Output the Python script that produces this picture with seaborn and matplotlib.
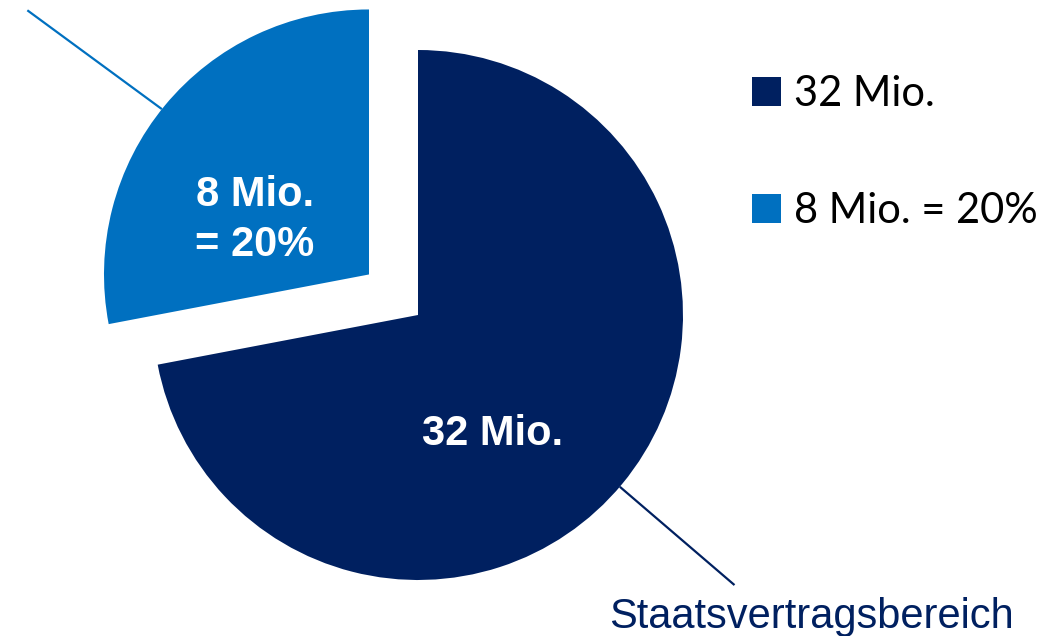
import numpy as np
import matplotlib
matplotlib.use("Agg")
import matplotlib.pyplot as plt
import matplotlib.patches as mpatches
import seaborn as sns

# ---- data ----
categories = ["32 Mio.", "8 Mio. = 20%"]
slice_labels = ["32 Mio.", "8 Mio.\n= 20%"]
slice_shares = [72.0, 28.0]          # drawn angular shares of the pie
callout_text = "Staatsvertragsbereich"

sns.set_theme(style="white")
palette = sns.color_palette(["#002060", "#0070C0"])
plt.rcParams["font.family"] = ["Liberation Sans", "DejaVu Sans"]
plt.rcParams["text.color"] = "black"

W, H, DPI = 1064, 636, 100
R_PX = 265.0
CX, CY = 418.0, 315.0  # pie centre in pixels (from top-left)

fig = plt.figure(figsize=(W / DPI, H / DPI), dpi=DPI)
ax = fig.add_axes([0, 0, 1, 1])


def px(x, y):
    return (x - CX) / R_PX, (CY - y) / R_PX


wedges, _ = ax.pie(
    slice_shares,
    colors=palette,
    startangle=90,
    counterclock=False,
    explode=[0, 0.24],
    radius=1.0,
    center=(0, 0),
    wedgeprops=dict(linewidth=0),
    frame=False,
)
ax.set_xlim(-CX / R_PX, (W - CX) / R_PX)
ax.set_ylim(-(H - CY) / R_PX, CY / R_PX)
ax.set_aspect("auto")
ax.axis("off")

# labels inside slices
lx, ly = px(493, 434)
ax.text(lx, ly, slice_labels[0], color="white", fontsize=30, fontweight="bold",
        ha="center", va="center")
sx, sy = px(255, 220)
ax.text(sx, sy, slice_labels[1], color="white", fontsize=30, fontweight="bold",
        ha="center", va="center", linespacing=1.3)

# leader lines from slice mid-angles
def leader(wedge, length, color, lw, start_off=0.0, dir_off=0.0):
    mid = (wedge.theta1 + wedge.theta2) / 2
    a0 = np.deg2rad(mid + start_off)
    a1 = np.deg2rad(mid + dir_off)
    cx, cy = wedge.center
    x0, y0 = cx + np.cos(a0), cy + np.sin(a0)
    x1, y1 = x0 + length * np.cos(a1), y0 + length * np.sin(a1)
    ax.plot([x0, x1], [y0, y1], color=color, lw=lw, solid_capstyle="butt",
            clip_on=False)
    return x1, y1

leader(wedges[1], 0.63, palette[1], 1.6, start_off=1.0, dir_off=3.3)
leader(wedges[0], 0.57, palette[0], 1.6, start_off=-0.8, dir_off=-1.0)

tx, ty = px(609, 628)
ax.text(tx, ty, callout_text, color=palette[0], fontsize=30,
        ha="left", va="baseline")

# legend
handles = [mpatches.Patch(facecolor=c, edgecolor="none", label=l)
           for c, l in zip(palette, categories)]
lx0, ly0 = 752 / W, 1 - 75 / H
leg = fig.legend(handles=handles, loc="upper left", bbox_to_anchor=(lx0, ly0),
                 frameon=False, prop={"family": "Lato", "size": 30},
                 handlelength=0.7, handleheight=0.7, handletextpad=0.3,
                 labelspacing=1.9, borderpad=0, borderaxespad=0)
for t in leg.get_texts():
    t.set_color("black")

fig.savefig("out.png", dpi=DPI)
